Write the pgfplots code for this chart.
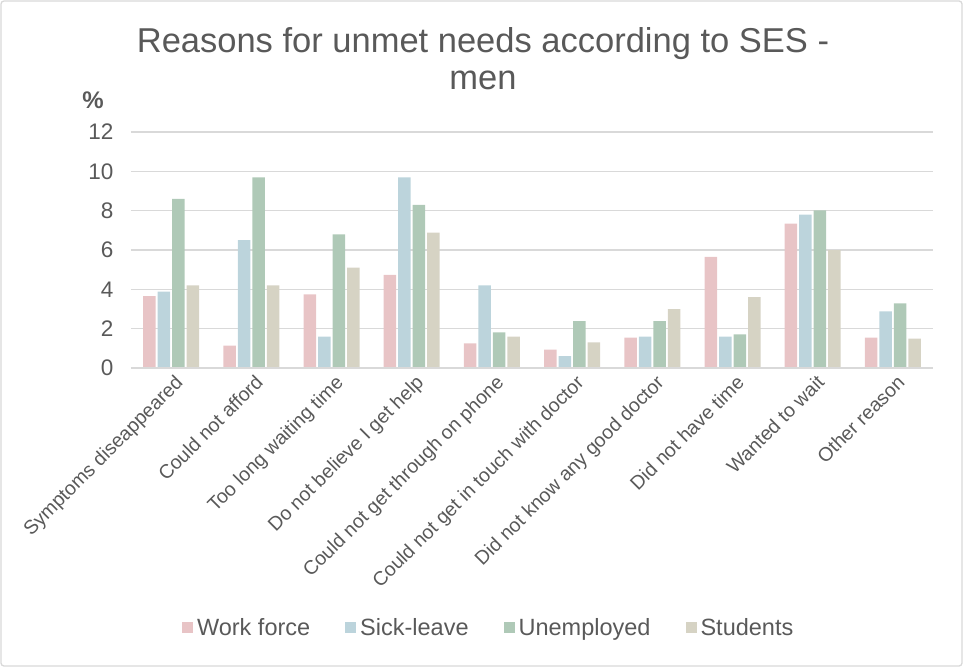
\documentclass[border=0pt]{standalone}
\usepackage{pgfplots}
\pgfplotsset{compat=1.18}
\usepackage{fontspec}
\setmainfont{Liberation Sans}

\definecolor{txt}{HTML}{595959}
\definecolor{gridc}{HTML}{D9D9D9}
\definecolor{cwork}{HTML}{E8C4C6}
\definecolor{csick}{HTML}{BCD4DC}
\definecolor{cunem}{HTML}{AFC9B7}
\definecolor{cstud}{HTML}{D6D3C4}

\begin{document}
\begin{tikzpicture}
\path[use as bounding box] (-131pt,-299pt) rectangle (832pt,368pt);
\draw[gridc, line width=1.3pt, rounded corners=3pt] (-130pt,-298pt) rectangle (831pt,367pt);

\begin{axis}[
  at={(0pt,0pt)}, anchor=south west,
  scale only axis, width=802pt, height=236pt,
  ybar=2pt, bar width=12.5pt,
  xmin=-0.5, xmax=9.5, ymin=0, ymax=12,
  xtick={0,...,9}, ytick={0,2,...,12},
  xticklabels={Symptoms diseappeared, Could not afford, Too long waiting time,
    Do not believe I get help, Could not get through on phone,
    Could not get in touch with doctor, Did not know any good doctor,
    Did not have time, Wanted to wait, Other reason},
  xticklabel style={rotate=45, anchor=north east, font=\fontsize{19.5}{22}\selectfont, text=txt, inner sep=2pt, yshift=-4pt},
  yticklabel style={font=\fontsize{22.5}{25}\selectfont, text=txt, xshift=-14pt},
  /pgf/number format/assume math mode=true,
  ymajorgrids, grid style={gridc, line width=1.2pt},
  axis line style={draw=none}, major tick length=0pt,
  legend columns=4,
  legend style={at={(0.446,-1.10)}, anchor=center, draw=none, fill=none,
    font=\fontsize{23.5}{26}\selectfont, text=txt,
    /tikz/every even column/.append style={column sep=33pt},
    nodes={inner sep=2pt, anchor=west}},
  legend image code/.code={\fill[#1] (0pt,-5.5pt) rectangle (11pt,5.5pt); \path (13pt,0pt);},
  every axis plot/.append style={draw=none},
]
\addplot[fill=cwork] coordinates {(0,3.65) (1,1.14) (2,3.75) (3,4.74) (4,1.25) (5,0.94) (6,1.55) (7,5.65) (8,7.34) (9,1.55)};
\addplot[fill=csick] coordinates {(0,3.89) (1,6.50) (2,1.60) (3,9.69) (4,4.20) (5,0.60) (6,1.60) (7,1.60) (8,7.80) (9,2.88)};
\addplot[fill=cunem] coordinates {(0,8.60) (1,9.69) (2,6.79) (3,8.29) (4,1.81) (5,2.39) (6,2.39) (7,1.71) (8,8.02) (9,3.29)};
\addplot[fill=cstud] coordinates {(0,4.20) (1,4.20) (2,5.10) (3,6.88) (4,1.60) (5,1.30) (6,3.00) (7,3.60) (8,6.00) (9,1.50)};
\legend{Work force, Sick-leave, Unemployed, Students}
\draw[gridc, line width=1.2pt] (axis cs:-0.5,0) -- (axis cs:9.5,0);
\end{axis}

\node[anchor=base, text=txt, font=\fontsize{34.5}{38}\selectfont] at (352pt,315pt) {Reasons for unmet needs according to SES -};
\node[anchor=base, text=txt, font=\fontsize{34.5}{38}\selectfont] at (352pt,278pt) {men};
\node[text=txt, font=\bfseries\fontsize{24}{26}\selectfont] at (-38pt,268pt) {\%};
\end{tikzpicture}
\end{document}
